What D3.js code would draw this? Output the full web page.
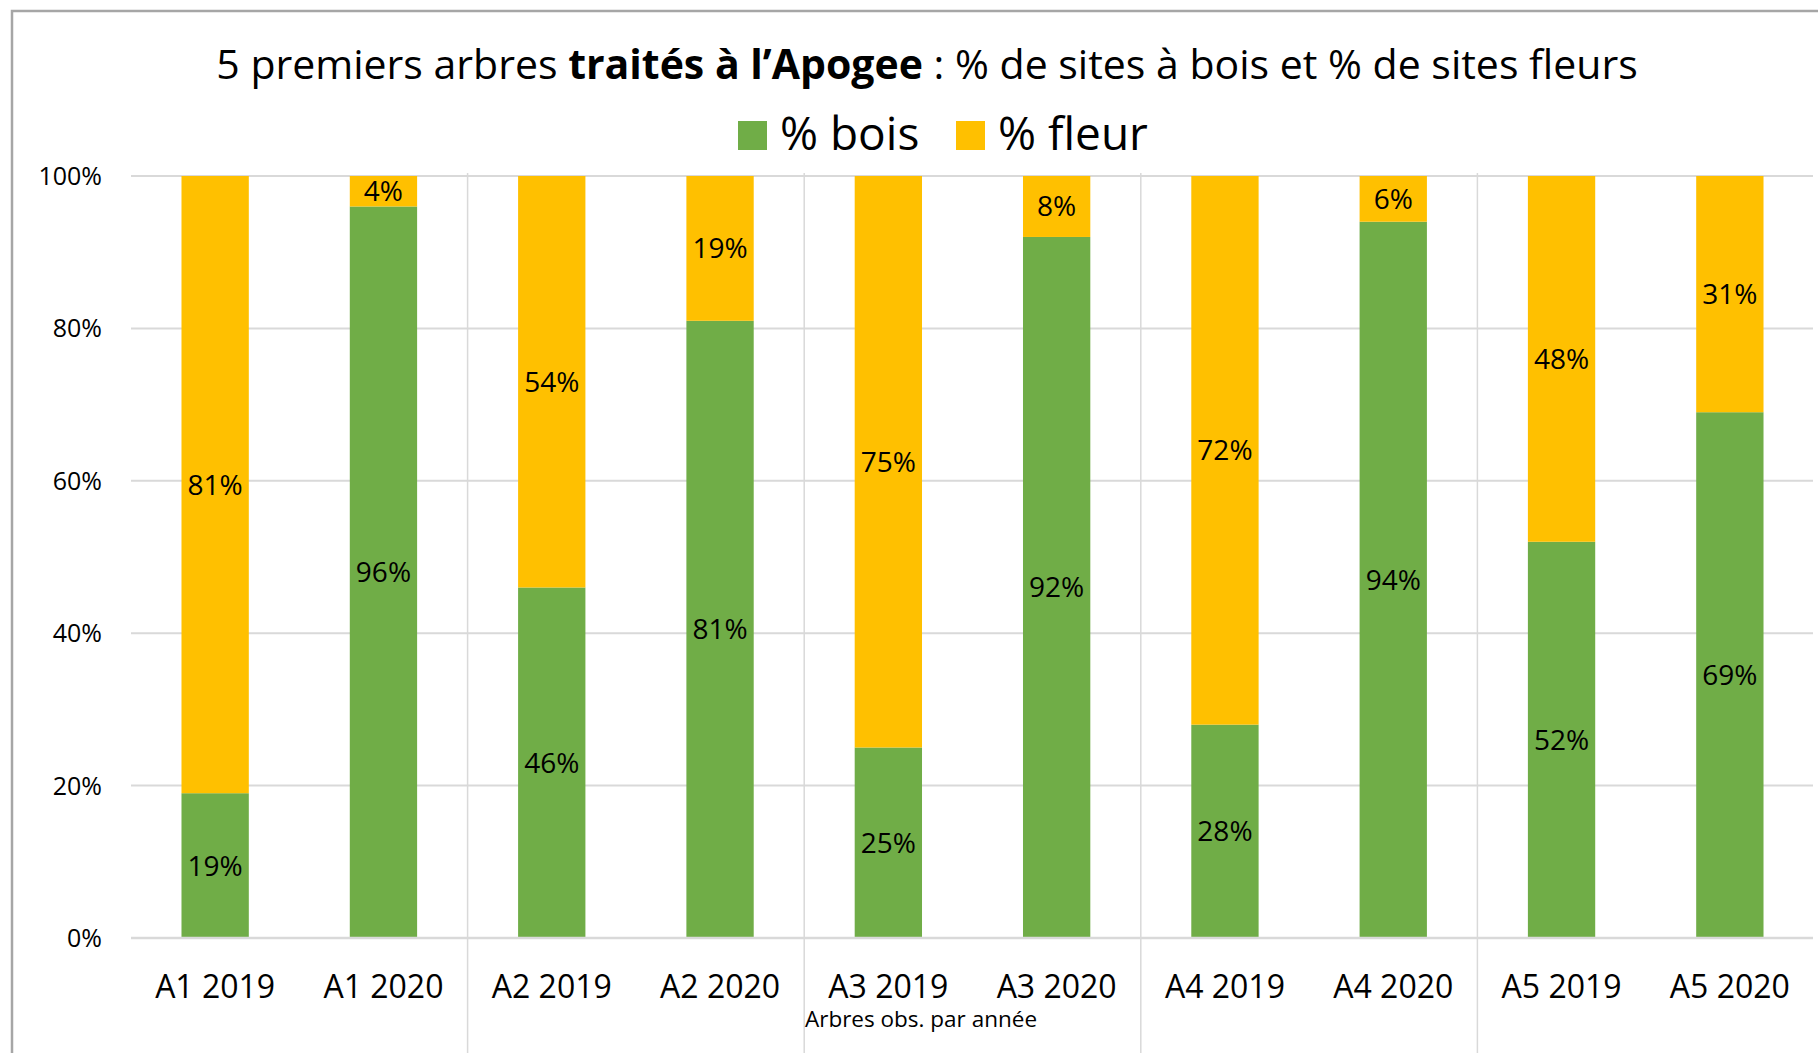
<!DOCTYPE html>
<html>
<head>
<meta charset="utf-8">
<script src="https://cdn.jsdelivr.net/npm/d3@7"></script>
<style>
  html, body { margin: 0; padding: 0; background: #fff; }
  svg { display: block; }
  text { font-family: "Open Sans", "Noto Sans", sans-serif; fill: #000; }
</style>
</head>
<body>
<svg id="chart" width="1818" height="1053"></svg>
<script>
// ---- data ----
const categories = ["A1 2019", "A1 2020", "A2 2019", "A2 2020", "A3 2019", "A3 2020", "A4 2019", "A4 2020", "A5 2019", "A5 2020"];
const bois  = [19, 96, 46, 81, 25, 92, 28, 94, 52, 69];
const fleur = [81,  4, 54, 19, 75,  8, 72,  6, 48, 31];
const seriesNames = ["% bois", "% fleur"];
const yTicks = [0, 20, 40, 60, 80, 100];
const groupSize = 2;
const axisTitle = "Arbres obs. par année";

// ---- layout ----
const W = 1818, H = 1053;
const colors = {"% bois": "#70ad47", "% fleur": "#ffc000"};
const plot = {left: 131, right: 1814, top: 176, bottom: 938};

const svg = d3.select("#chart");

// chart border
svg.append("rect")
  .attr("x", 12).attr("y", 11)
  .attr("width", W + 20).attr("height", H + 20)
  .attr("fill", "none").attr("stroke", "#a6a6a6").attr("stroke-width", 2.5);

const x = d3.scaleBand().domain(categories).range([plot.left, plot.right])
  .paddingInner(0.6).paddingOuter(0.3);
const y = d3.scaleLinear().domain([0, 100]).range([plot.bottom, plot.top]);

// gridlines
svg.append("g").selectAll("line").data(yTicks.filter(d => d > 0)).join("line")
  .attr("x1", plot.left).attr("x2", plot.right - 1)
  .attr("y1", d => y(d)).attr("y2", d => y(d))
  .attr("stroke", "#d9d9d9").attr("stroke-width", 2);

// y tick labels
svg.append("g").selectAll("text").data(yTicks).join("text")
  .attr("x", 102).attr("y", d => y(d) + 9)
  .attr("text-anchor", "end")
  .attr("font-size", 25)
  .text(d => d + "%");

// group separators (between groups of categories)
const step = x.step();
const boundaries = d3.range(groupSize, categories.length, groupSize)
  .map(i => x(categories[i]) - x.paddingInner() * step / 2);
svg.append("g").selectAll("line").data(boundaries).join("line")
  .attr("x1", d => d).attr("x2", d => d)
  .attr("y1", plot.top - 3).attr("y2", H)
  .attr("stroke", "#d9d9d9").attr("stroke-width", 1.5);

// stacked bars
const rows = categories.map((c, i) => ({cat: c, "% bois": bois[i], "% fleur": fleur[i]}));
const stack = d3.stack().keys(seriesNames)(rows);

const layers = svg.append("g").selectAll("g").data(stack).join("g")
  .attr("fill", d => colors[d.key]);
layers.selectAll("rect").data(d => d).join("rect")
  .attr("x", d => x(d.data.cat))
  .attr("width", x.bandwidth())
  .attr("y", d => y(d[1]))
  .attr("height", d => y(d[0]) - y(d[1]));

// data labels
const lbl = svg.append("g");
stack.forEach(layer => {
  lbl.selectAll(null).data(layer).join("text")
    .attr("x", d => x(d.data.cat) + x.bandwidth() / 2)
    .attr("y", d => y((d[0] + d[1]) / 2) + 10)
    .attr("text-anchor", "middle")
    .attr("font-size", 28)
    .text(d => (d[1] - d[0]) + "%");
});

// x axis line
svg.append("line")
  .attr("x1", plot.left).attr("x2", plot.right - 1)
  .attr("y1", plot.bottom).attr("y2", plot.bottom)
  .attr("stroke", "#d9d9d9").attr("stroke-width", 2.5);

// category labels
svg.append("g").selectAll("text").data(categories).join("text")
  .attr("x", d => x(d) + x.bandwidth() / 2)
  .attr("y", 998)
  .attr("text-anchor", "middle")
  .attr("font-size", 32)
  .text(d => d);

// axis title
svg.append("text")
  .attr("x", 921).attr("y", 1027)
  .attr("text-anchor", "middle")
  .attr("font-size", 22.5)
  .text(axisTitle);

// title
const title = svg.append("text")
  .attr("x", 927).attr("y", 79)
  .attr("text-anchor", "middle")
  .attr("font-size", 41);
title.append("tspan").text("5 premiers arbres ");
title.append("tspan").attr("font-weight", "bold").text("traités à l’Apogee");
title.append("tspan").text(" : % de sites à bois et % de sites fleurs");

// legend
const legendX = [738, 956];
const leg = svg.append("g").selectAll("g").data(seriesNames).join("g")
  .attr("transform", (d, i) => `translate(${legendX[i]},0)`);
leg.append("rect").attr("x", 0).attr("y", 121).attr("width", 29).attr("height", 29)
  .attr("fill", d => colors[d]);
leg.append("text").attr("x", 42).attr("y", 150).attr("font-size", 46).text(d => d);
</script>
</body>
</html>
